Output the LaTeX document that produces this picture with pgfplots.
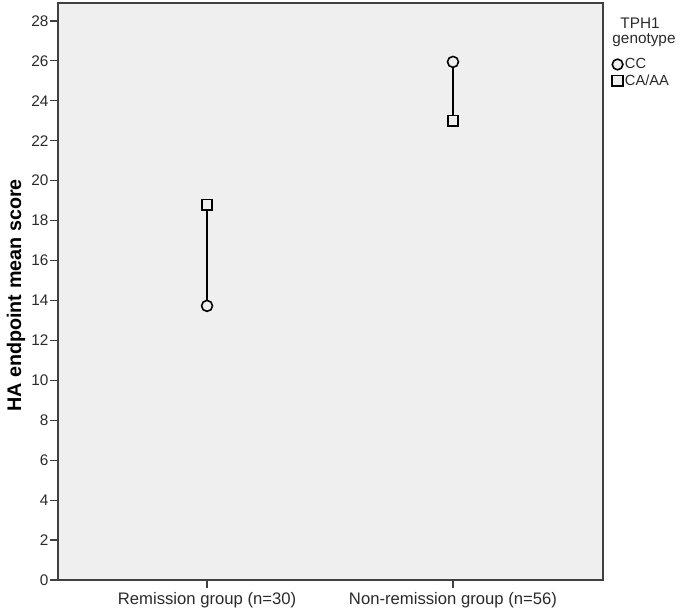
\documentclass[border=0pt]{standalone}
\usepackage{pgfplots}
\pgfplotsset{compat=1.18}
\usepackage{fontspec}
\setmainfont{Liberation Sans}
\definecolor{plotbg}{HTML}{EFEFEF}
\definecolor{axgray}{HTML}{404040}
\definecolor{txtgray}{HTML}{2A2A2A}
\begin{document}
\begin{tikzpicture}
\begin{axis}[
  name=ax,
  scale only axis,
  width=408.75pt, height=432.75pt,
  xmin=0.394, xmax=2.61,
  ymin=0, ymax=28.9,
  axis background/.style={fill=plotbg},
  axis line style={axgray, line width=1.1pt},
  xtick={1,2},
  xticklabels={Remission group (n=30), Non-remission group (n=56)},
  ytick={0,2,...,28},
  tick align=outside,
  xtick pos=bottom, ytick pos=left,
  major tick length=6pt,
  tick style={axgray, line width=0.9pt},
  yticklabel style={font=\fontsize{11.5}{13}\selectfont, text=txtgray, inner sep=1pt},
  xticklabel style={font=\fontsize{12.5}{14}\selectfont, text=txtgray},
  /pgf/number format/assume math mode=true,
  ylabel={\bfseries HA endpoint mean score},
  ylabel style={font=\fontsize{14.8}{16}\selectfont, xshift=-3pt},
  legend style={at={(1.0165,0.908)}, anchor=north west, draw=none, fill=none,
    font=\fontsize{11}{13}\selectfont, text=txtgray, inner sep=0pt,
    nodes={inner sep=1.5pt}},
  legend cell align=left,
  legend image code/.code={\draw[#1, line width=0.9pt, mark size=4pt] plot coordinates {(0.14cm,0cm)};},
]
\addplot[black, line width=1.3pt, forget plot] coordinates {(1,13.73) (1,18.79)};
\addplot[black, line width=1.3pt, forget plot] coordinates {(2,25.95) (2,23.0)};
\addplot[only marks, mark=*, mark size=4.1pt, mark options={draw=black, line width=1.2pt, fill=plotbg}] coordinates {(1,13.73) (2,25.95)};
\addplot[only marks, mark=square*, mark size=3.9pt, mark options={draw=black, line width=1.2pt, fill=plotbg}] coordinates {(1,18.79) (2,23.0)};
\legend{CC, CA/AA}
\end{axis}
\node[font=\fontsize{11.5}{13}\selectfont, text=txtgray] at ([xshift=27.75pt,yshift=-15pt]ax.north east) {TPH1};
\node[font=\fontsize{11.5}{13}\selectfont, text=txtgray] at ([xshift=30.75pt,yshift=-27.75pt]ax.north east) {genotype};
\path ([xshift=-43.5pt,yshift=-27pt]ax.south west) rectangle ([xshift=61.5pt,yshift=2.25pt]ax.north east);
\end{tikzpicture}
\end{document}
